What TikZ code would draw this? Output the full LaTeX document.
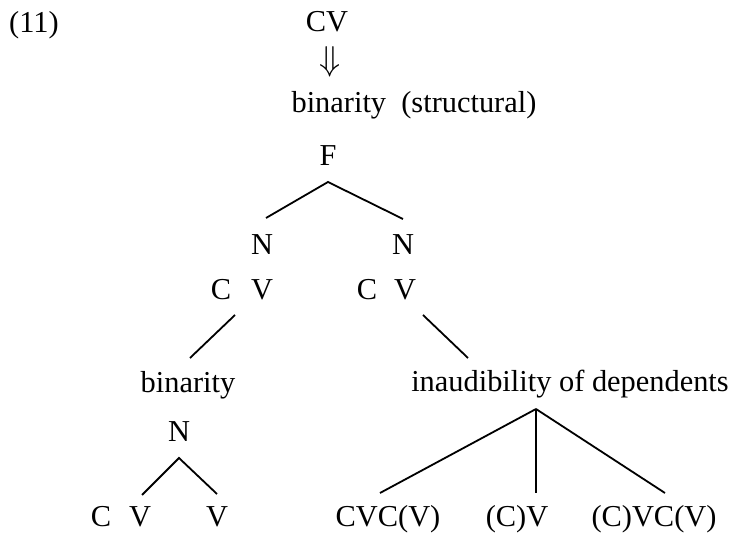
\documentclass[tikz,border=0pt]{standalone}
\usepackage{fontspec}
\setmainfont{Liberation Serif}
\usepackage{tikz}

\begin{document}
\begin{tikzpicture}[x=0.5pt, y=-0.5pt,
    lbl/.style={inner sep=0pt, anchor=base, font=\fontsize{15.2}{18}\selectfont},
    branch/.style={line width=0.9pt}]
  \useasboundingbox (0,0) rectangle (741,535);
  % ---------- top: derivation ----------
  \node[lbl] (ex) at (34,33) {(11)};
  \node[lbl] (cv) at (327,32) {CV};
  \node[inner sep=0pt, font=\fontsize{16}{18}\selectfont] (arr) at (330,62) {$\Downarrow$};
  \node[lbl] (bstr) at (414,113) {binarity\ \ (structural)};
  \node[lbl] (F) at (328,166) {F};
  % ---------- foot: two nuclei ----------
  \node[lbl] (NL) at (262,255) {N};
  \node[lbl] (NR) at (403,255) {N};
  \node[lbl] (CL) at (221,300) {C};
  \node[lbl] (VL) at (262,300) {V};
  \node[lbl] (CR) at (367,300) {C};
  \node[lbl] (VR) at (405,300) {V};
  \coordinate (Ftop) at (328,182);
  \coordinate (Fl) at (266,218);
  \coordinate (Fr) at (403,219);
  \draw[branch] (Fl) -- (Ftop) -- (Fr);
  % ---------- left: binarity ----------
  \node[lbl] (bin) at (188,393) {binarity};
  \coordinate (CLb) at (235,315);
  \coordinate (binT) at (190,358);
  \draw[branch] (CLb) -- (binT);
  \node[lbl] (N2) at (179,442) {N};
  \coordinate (N2b) at (179,458);
  \coordinate (l1) at (142,495);
  \coordinate (l2) at (217,494);
  \draw[branch] (l1) -- (N2b) -- (l2);
  \node[lbl] (c1) at (101,527) {C};
  \node[lbl] (v1) at (140,527) {V};
  \node[lbl] (v2) at (217,527) {V};
  % ---------- right: inaudibility ----------
  \node[lbl] (inaud) at (570,392) {inaudibility of dependents};
  \coordinate (VRb) at (423,315);
  \coordinate (inT) at (468,358);
  \draw[branch] (VRb) -- (inT);
  \coordinate (apex) at (536,409);
  \coordinate (r1) at (380,493);
  \coordinate (r2) at (536,493);
  \coordinate (r3) at (665,493);
  \draw[branch] (apex) -- (r1);
  \draw[branch] (apex) -- (r2);
  \draw[branch] (apex) -- (r3);
  \node[lbl] (o1) at (388,527) {CVC(V)};
  \node[lbl] (o2) at (517,527) {(C)V};
  \node[lbl] (o3) at (654,527) {(C)VC(V)};
\end{tikzpicture}
\end{document}
